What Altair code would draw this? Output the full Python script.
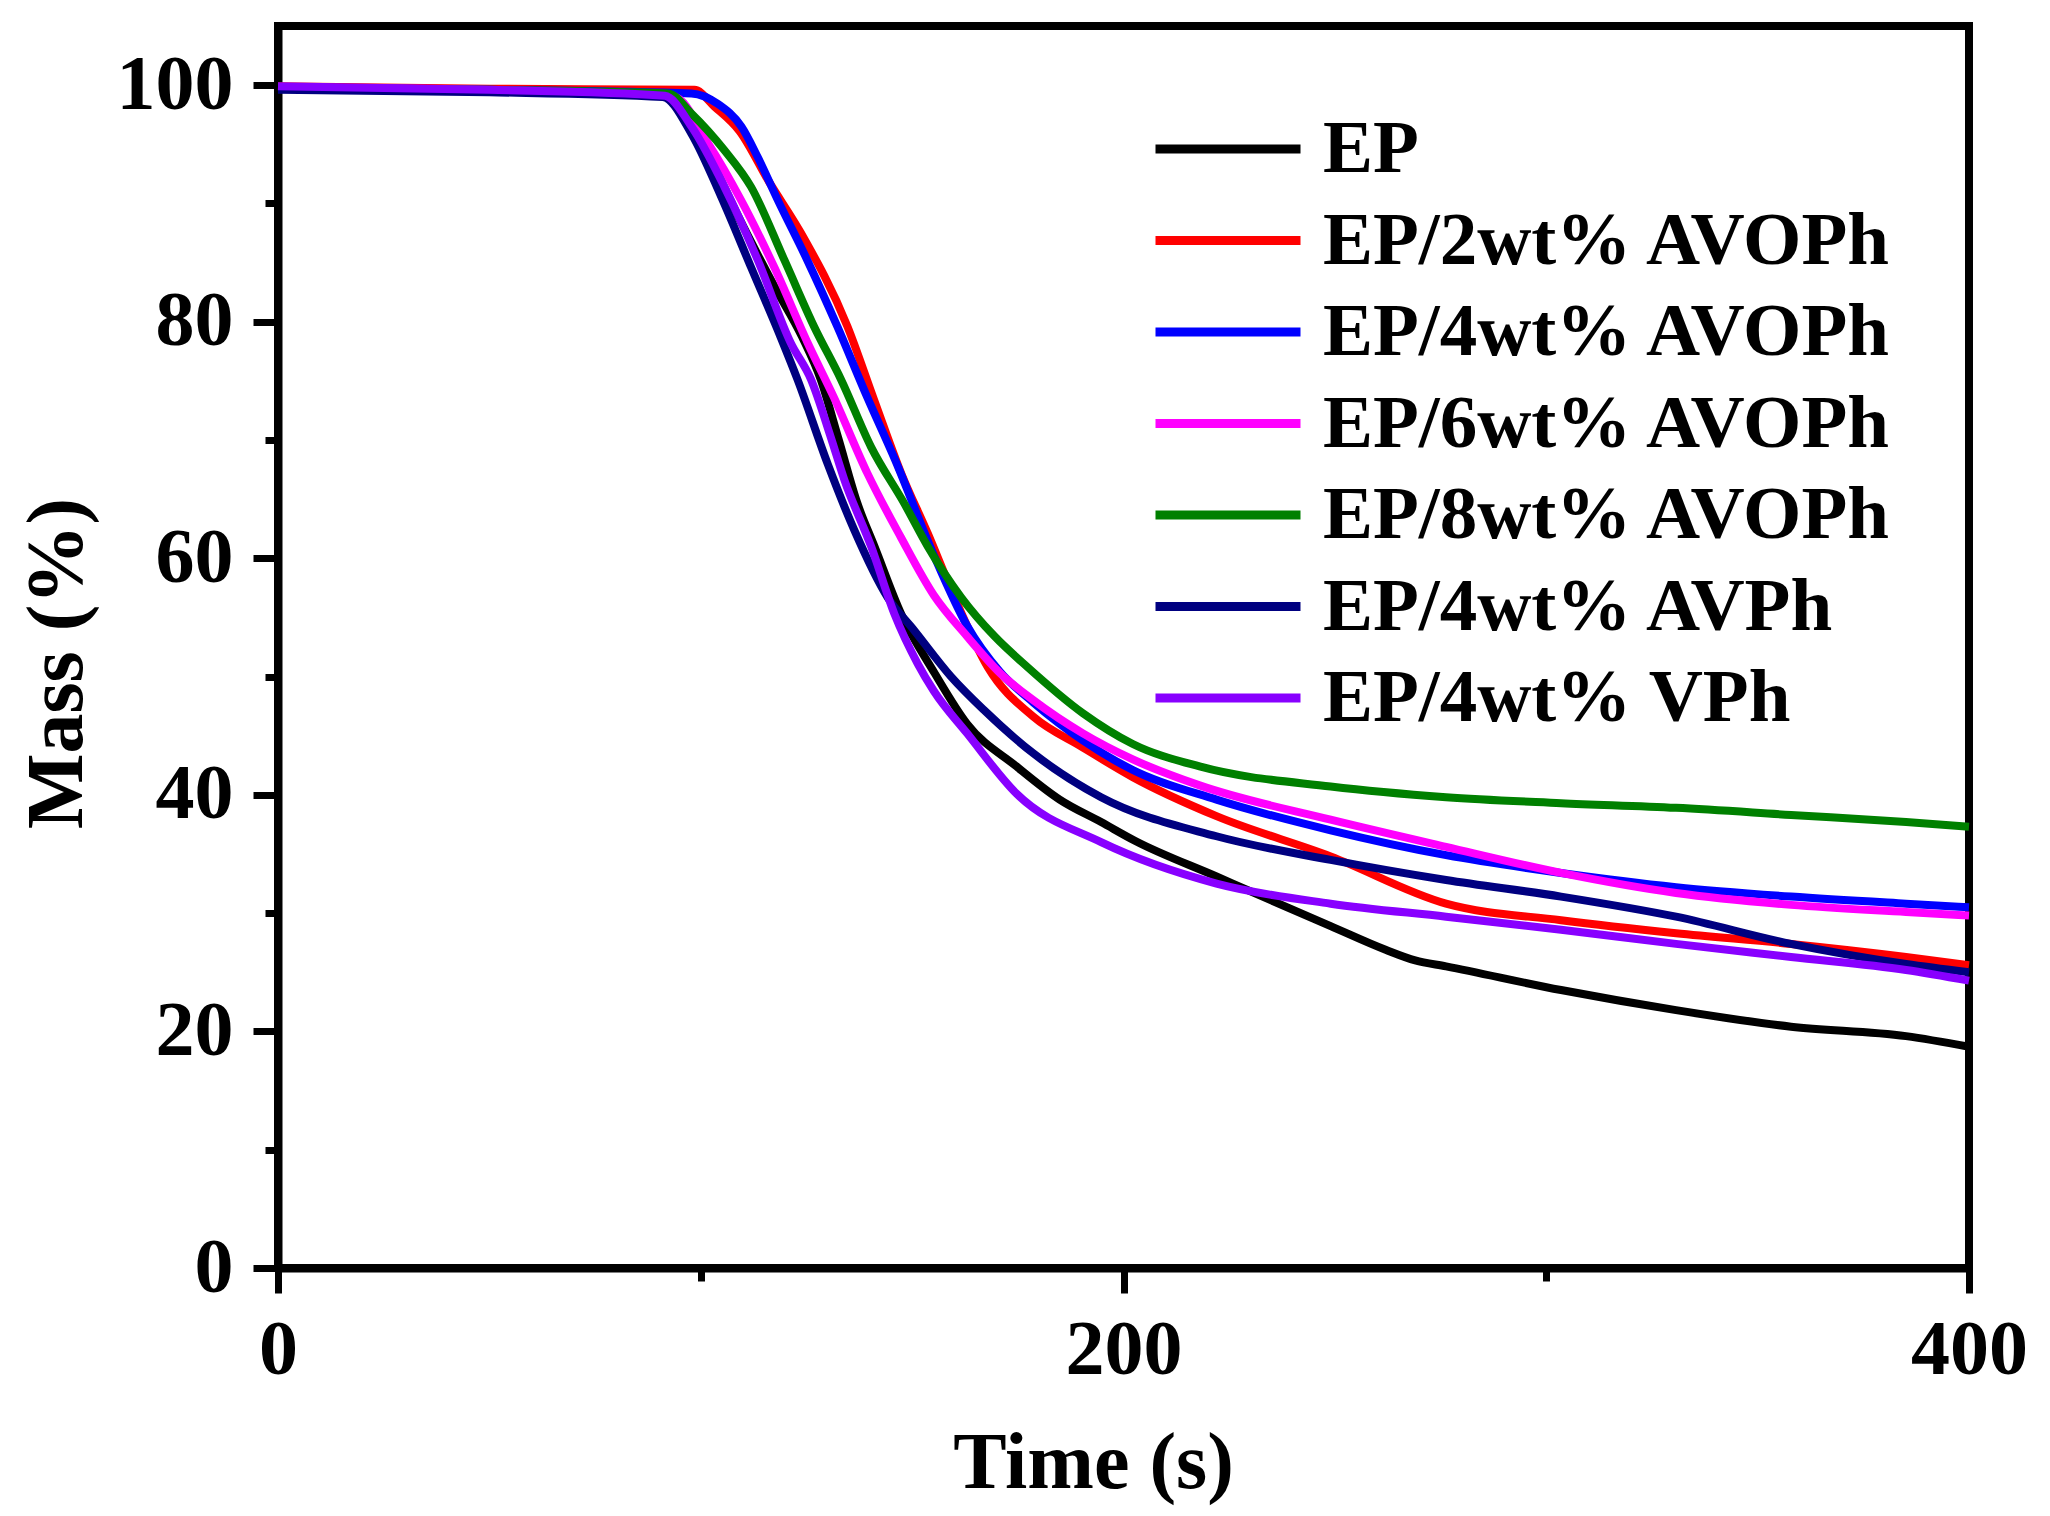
import altair as alt
import pandas as pd

FONT = "Liberation Serif"

series = [
    "EP",
    "EP/2wt% AVOPh",
    "EP/4wt% AVOPh",
    "EP/6wt% AVOPh",
    "EP/8wt% AVOPh",
    "EP/4wt% AVPh",
    "EP/4wt% VPh",
]
colors = ["#000000", "#FF0000", "#0000FF", "#FF00FF", "#008000", "#000080", "#8800FF"]

# time (s) / mass (%)
t_ep = [0, 50, 91, 96.5, 101.7, 109, 117.4, 124, 128.4, 132.5, 137.1, 141.1, 147.4, 155.3, 163,
        174.7, 184.9, 194.7, 202.8, 222, 249, 262, 269, 276.3, 303.5, 330.7, 357.9, 385.1, 400]
m_ep = [99.8, 99.5, 99.1, 97.5, 94.2, 88.8, 83.0, 78.7, 75.1, 70.2, 64.6, 61.0, 55.3, 50.3, 46.0,
        42.4, 39.6, 37.7, 36.1, 33.1, 28.9, 26.9, 26.0, 25.5, 23.5, 21.8, 20.4, 19.6, 18.7]

t_2 = [0, 50, 98.5, 103.2, 109.2, 116.2, 123.7, 134.7, 141, 147.4, 153.7, 160, 167.9, 178.7,
       190.4, 202.2, 222, 249, 276.3, 303.5, 330.7, 357.9, 385.1, 400]
m_2 = [99.9, 99.7, 99.6, 98.2, 96.1, 91.8, 87.5, 79.6, 73.4, 67.2, 62.1, 56.7, 50.8, 46.6,
       44.0, 41.5, 38.2, 34.8, 30.8, 29.4, 28.3, 27.4, 26.3, 25.6]

t_4 = [0, 50, 97.8, 104.1, 109.6, 113.5, 118.2, 125.2, 132.3, 139.4, 146, 155.1, 163, 170.8,
       178.7, 190.4, 202.2, 222, 249, 276.3, 303.5, 330.7, 357.9, 385.1, 400]
m_4 = [99.8, 99.6, 99.3, 98.4, 96.5, 93.9, 90.3, 85.2, 79.6, 73.6, 68.3, 60.3, 54.3, 50.4,
       47.8, 44.6, 42.1, 39.6, 37.0, 34.9, 33.4, 32.2, 31.4, 30.8, 30.5]

t_6 = [0, 50, 93.8, 101.7, 109.5, 117.4, 125.3, 131.5, 139.4, 147.3, 155.1, 163, 170.8, 178.7,
       190.4, 202.2, 218, 249, 276.3, 303.5, 330.7, 357.9, 385.1, 400]
m_6 = [99.8, 99.6, 99.0, 95.1, 90.3, 84.6, 78.2, 73.6, 67.2, 61.8, 56.9, 53.4, 50.3, 48.0,
       45.2, 43.0, 40.8, 37.9, 35.6, 33.4, 31.7, 30.7, 30.1, 29.8]

t_8 = [0, 50, 92.3, 97.8, 105.6, 111.9, 119.8, 126.8, 133.2, 140.3, 148.2, 153.7, 161.6, 169.5,
       177.3, 190.4, 202.2, 218, 249, 276.3, 303.5, 330.7, 357.9, 385.1, 400]
m_8 = [99.8, 99.6, 99.3, 97.6, 94.5, 91.4, 85.2, 79.6, 75.1, 69.4, 64.6, 61.0, 56.7, 53.4,
       50.8, 46.9, 44.3, 42.4, 40.7, 39.8, 39.3, 38.9, 38.3, 37.7, 37.3]

t_avph = [0, 50, 91, 97.8, 104.8, 111.9, 119, 122.9, 130, 136.3, 144.2, 150.5, 159.2, 166.9,
          178.7, 194.7, 222, 249, 276.3, 303.5, 330.7, 357.9, 385.1, 400]
m_avph = [99.6, 99.4, 99.0, 95.9, 90.6, 84.6, 78.6, 75.1, 68.0, 62.4, 56.7, 53.9, 50.0, 47.2,
          43.5, 39.8, 36.5, 34.5, 32.8, 31.4, 29.7, 27.4, 25.7, 25.0]

t_vph = [0, 50, 91.5, 97.8, 105.6, 113.5, 121.3, 126.1, 130.7, 134, 140.3, 145.8, 151.3, 155.1,
         163, 174.7, 194.7, 222, 249, 276.3, 303.5, 330.7, 357.9, 385.1, 400]
m_vph = [99.9, 99.6, 99.1, 96.5, 91.4, 85.2, 78.2, 75.1, 70.3, 66.6, 61.0, 55.3, 51.1, 48.8,
         45.2, 40.1, 36.0, 32.5, 30.8, 29.7, 28.6, 27.4, 26.3, 25.2, 24.3]

x_major = [0, 200, 400]
x_minor = [100, 300]
y_major = [0, 20, 40, 60, 80, 100]
y_minor = [10, 30, 50, 70, 90]

curves = [(t_ep, m_ep), (t_2, m_2), (t_4, m_4), (t_6, m_6), (t_8, m_8), (t_avph, m_avph), (t_vph, m_vph)]
frames = []
for i, (name, (ts, ms)) in enumerate(zip(series, curves)):
    frames.append(pd.DataFrame({"time": ts, "mass": ms, "sample": name, "k": i}))
df = pd.concat(frames, ignore_index=True)

x_scale = alt.Scale(domain=[0, 400], nice=False)
y_scale = alt.Scale(domain=[0, 105], nice=False)

lines = alt.Chart(df).mark_line(strokeWidth=8, interpolate="monotone").encode(
    x=alt.X("time:Q", scale=x_scale,
            axis=alt.Axis(values=x_major, title="Time (s)", orient="bottom",
                          tickSize=25, labelPadding=18, titlePadding=35, titleX=815,
                          labelFlush=False, labelOverlap=False, format="d")),
    y=alt.Y("mass:Q", scale=y_scale,
            axis=alt.Axis(values=y_major, title="Mass (%)", orient="left",
                          tickSize=25, labelPadding=20, titlePadding=18, titleY=637,
                          labelOverlap=False, format="d")),
    color=alt.Color("sample:N", sort=series,
                    scale=alt.Scale(domain=series, range=colors),
                    legend=alt.Legend(orient="none", legendX=873, legendY=83, title=None,
                                      symbolType="stroke", symbolSize=21025,
                                      symbolStrokeWidth=9, labelFont=FONT,
                                      labelFontWeight="bold", labelFontSize=75,
                                      labelOffset=18, rowPadding=11.5, clipHeight=80,
                                      labelLimit=1200, padding=0)),
    order=alt.Order("k:Q"),
)

# invisible layer carrying the short minor-tick axes
minor = alt.Chart(df).mark_point(opacity=0).encode(
    x=alt.X("time:Q", scale=x_scale,
            axis=alt.Axis(values=x_minor, orient="bottom", tickSize=13, labels=False,
                          domain=False, title=None)),
    y=alt.Y("mass:Q", scale=y_scale,
            axis=alt.Axis(values=y_minor, orient="left", tickSize=13, labels=False,
                          domain=False, title=None)),
)

chart = alt.layer(lines, minor).resolve_axis(
    x="independent", y="independent"
).properties(
    width=1691, height=1242,
    padding={"left": 9, "top": 18, "right": 12, "bottom": 10},
).configure_view(
    stroke="black", strokeWidth=8
).configure_axis(
    grid=False,
    domainColor="black", domainWidth=8,
    tickColor="black", tickWidth=7,
    labelFont=FONT, labelFontWeight="bold", labelFontSize=78, labelColor="black",
    titleFont=FONT, titleFontWeight="bold", titleFontSize=80, titleColor="black",
)

chart.save("out.html", embed_options={"renderer": "svg", "actions": False})
